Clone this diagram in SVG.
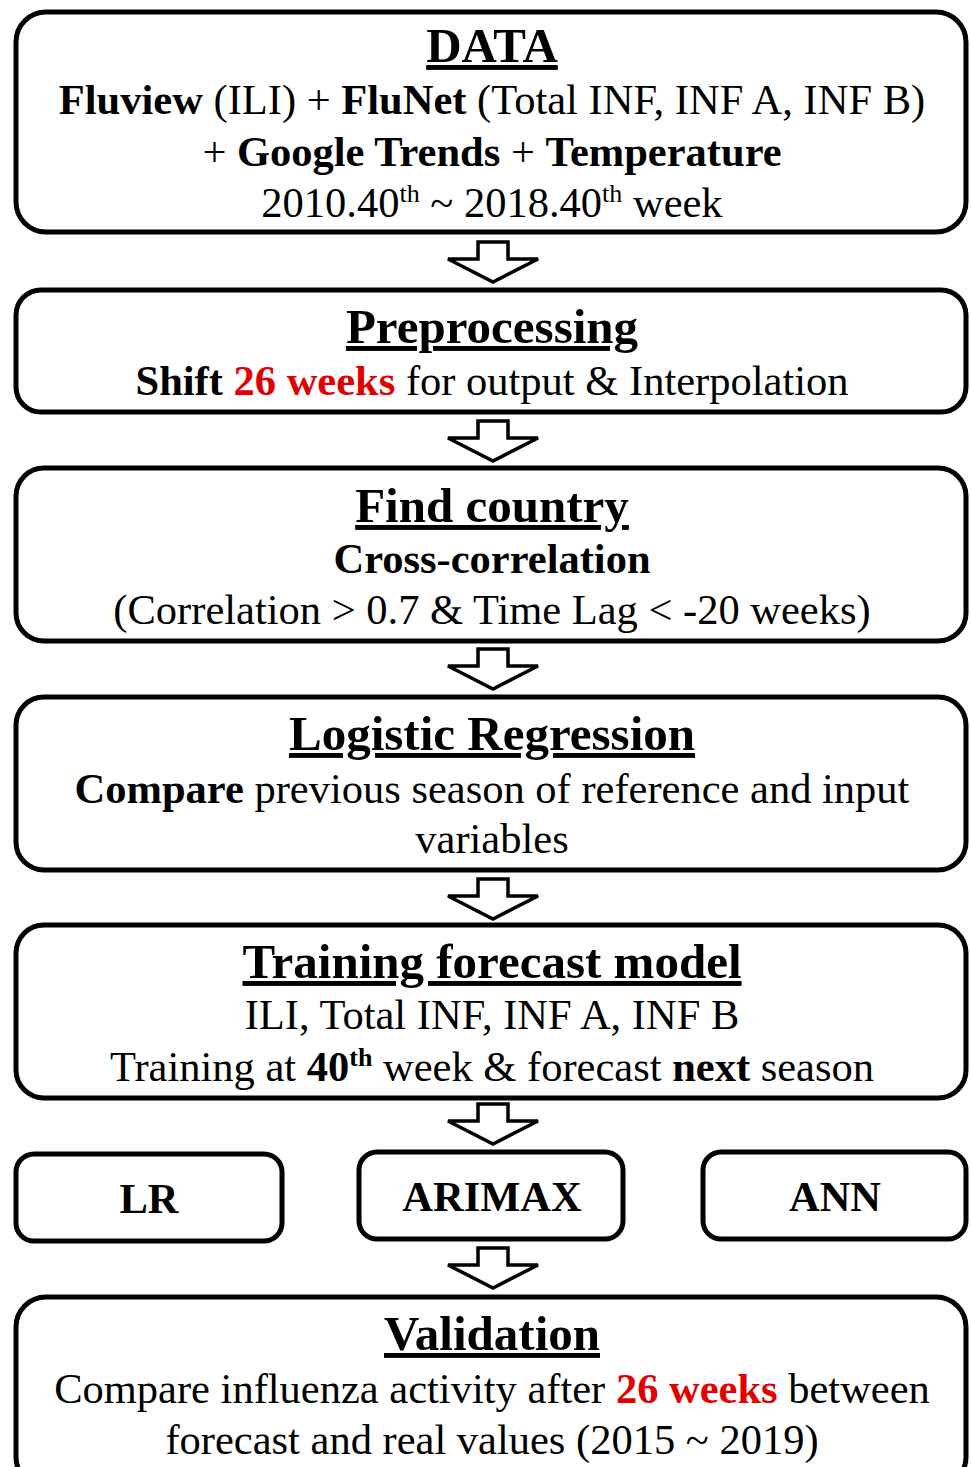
<svg xmlns="http://www.w3.org/2000/svg" xmlns:xlink="http://www.w3.org/1999/xlink" width="971" height="1467" viewBox="0 0 971 1467">
<style>
.box{fill:#fff;stroke:#000;stroke-width:5}
.t{font-family:"Liberation Serif","Times New Roman",serif;fill:#000;text-anchor:middle}
.title{font-size:49px;font-weight:bold;text-decoration:underline}
.body{font-size:42.5px}
.b{font-weight:bold}
.red{fill:#e00000;font-weight:bold}
.sup{font-size:26px}
.arr{fill:#fff;stroke:#000;stroke-width:3.5;stroke-linejoin:miter}
</style>
<defs>
<path id="arrow" class="arr" d="M-15,0 H15 V17 H45 L0,40 L-45,17 H-15 Z"/>
</defs>
<rect width="971" height="1467" fill="#fff"/>
<g id="connectors">
<use xlink:href="#arrow" transform="translate(493,242)"/>
<use xlink:href="#arrow" transform="translate(493,421)"/>
<use xlink:href="#arrow" transform="translate(493,649)"/>
<use xlink:href="#arrow" transform="translate(493,879)"/>
<use xlink:href="#arrow" transform="translate(493,1104)"/>
<use xlink:href="#arrow" transform="translate(493,1248)"/>
</g>
<g id="data">
<rect class="box" x="16" y="12" width="950" height="220" rx="30"/>
<text class="t title" x="492" y="62">DATA</text>
<text class="t body" x="492" y="114"><tspan class="b">Fluview</tspan> (ILI) + <tspan class="b">FluNet</tspan> (Total INF, INF A, INF B)</text>
<text class="t body" x="492" y="166">+ <tspan class="b">Google Trends</tspan> + <tspan class="b">Temperature</tspan></text>
<text class="t body" x="492" y="217">2010.40<tspan class="sup" dy="-15">th</tspan><tspan dy="15"> ~ 2018.40</tspan><tspan class="sup" dy="-15">th</tspan><tspan dy="15"> week</tspan></text>
</g>
<g id="preprocessing">
<rect class="box" x="16" y="290" width="950" height="122" rx="25"/>
<text class="t title" x="492" y="343">Preprocessing</text>
<text class="t body" x="492" y="395"><tspan class="b">Shift </tspan><tspan class="red">26 weeks</tspan> for output &amp; Interpolation</text>
</g>
<g id="find-country">
<rect class="box" x="16" y="468" width="950" height="173" rx="28"/>
<text class="t title" x="492" y="522">Find country</text>
<text class="t body b" x="492" y="573">Cross-correlation</text>
<text class="t body" x="492" y="624">(Correlation &gt; 0.7 &amp; Time Lag &lt; -20 weeks)</text>
</g>
<g id="logistic-regression">
<rect class="box" x="16" y="697" width="950" height="173" rx="28"/>
<text class="t title" x="492" y="750">Logistic Regression</text>
<text class="t body" x="492" y="803"><tspan class="b">Compare</tspan> previous season of reference and input</text>
<text class="t body" x="492" y="853">variables</text>
</g>
<g id="training">
<rect class="box" x="16" y="925" width="950" height="173" rx="28"/>
<text class="t title" x="492" y="978">Training forecast model</text>
<text class="t body" x="492" y="1029">ILI, Total INF, INF A, INF B</text>
<text class="t body" x="492" y="1081">Training at <tspan class="b">40</tspan><tspan class="sup b" dy="-15">th</tspan><tspan dy="15"> week &amp; forecast </tspan><tspan class="b">next</tspan> season</text>
</g>
<g id="lr">
<rect class="box" x="16" y="1154" width="266" height="87" rx="18"/>
<text class="t body b" x="149" y="1213">LR</text>
</g>
<g id="arimax">
<rect class="box" x="359" y="1152" width="264" height="87" rx="18"/>
<text class="t body b" x="492" y="1211">ARIMAX</text>
</g>
<g id="ann">
<rect class="box" x="703" y="1152" width="263" height="87" rx="18"/>
<text class="t body b" x="835" y="1211">ANN</text>
</g>
<g id="validation">
<rect class="box" x="16" y="1297" width="950" height="190" rx="30"/>
<text class="t title" x="492" y="1350">Validation</text>
<text class="t body" x="492" y="1403">Compare influenza activity after <tspan class="red">26 weeks</tspan> between</text>
<text class="t body" x="492" y="1454">forecast and real values (2015 ~ 2019)</text>
</g>
</svg>
